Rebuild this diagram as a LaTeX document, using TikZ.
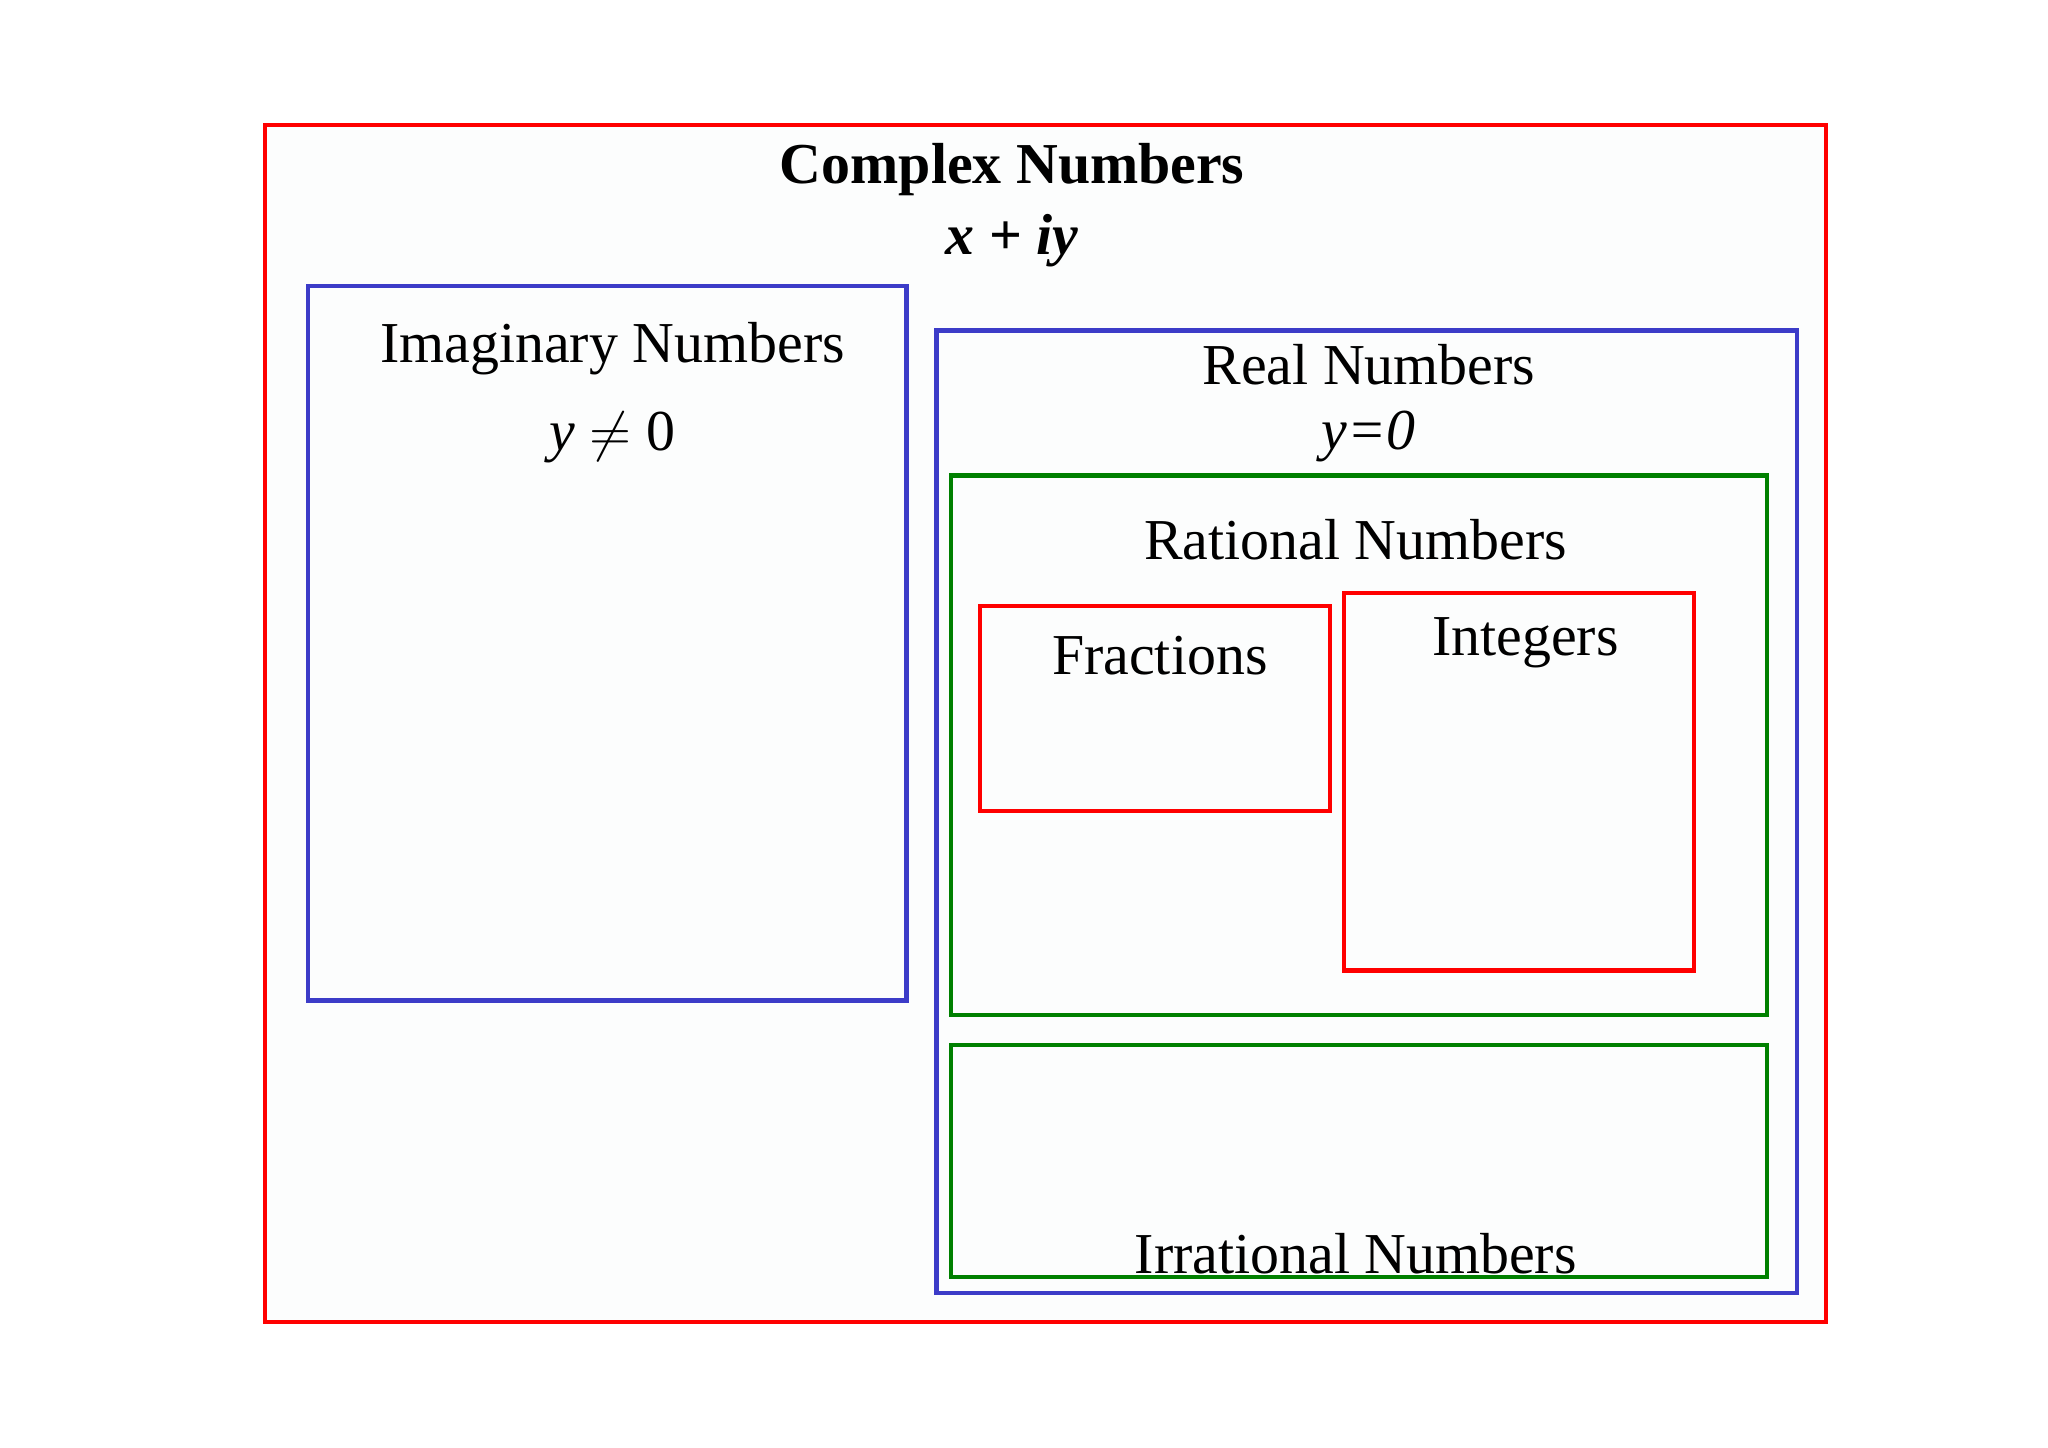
\documentclass[tikz,border=0pt]{standalone}
\usepackage{fontspec}
\setmainfont{Liberation Serif}
\begin{document}
\begin{tikzpicture}[x=0.01cm,y=-0.01cm,
  bx/.style={line width=0.9pt},
  lbl/.style={font=\fontsize{12.6}{15}\selectfont, inner sep=0pt}]
\definecolor{bbl}{RGB}{60,60,200}
\useasboundingbox (0,0) rectangle (1568,1108);
\fill[white] (0,0) rectangle (1568,1108);
\draw[bx,red,fill={rgb,255:red,252;green,253;blue,253}] (203,96) rectangle (1398,1012);
\draw[bx,bbl] (236,219) rectangle (694,766);
\draw[bx,bbl] (717,253) rectangle (1376,990);
\draw[bx,green!50!black] (728,364) rectangle (1353,777);
\draw[bx,red] (750,464) rectangle (1018,621);
\draw[bx,red] (1029,454) rectangle (1297,743);
\draw[bx,green!50!black] (728,800) rectangle (1353,978);
\node[lbl,font=\fontsize{12.6}{15}\selectfont\bfseries] (c) at (775,130) {Complex Numbers};
\node[lbl] (cx) at (775,184) {\textbf{\textit{x}} \textbf{+} \textbf{\textit{iy}}};
\node[lbl] (im) at (469,267) {Imaginary Numbers};
\node[lbl] (imy) at (469,335) {\textit{y} $\neq$ 0};
\node[lbl] (re) at (1048,279) {Real Numbers};
\node[lbl] (rey) at (1048,334) {\textit{y=0}};
\node[lbl] (ra) at (1038,413) {Rational Numbers};
\node[lbl] (fr) at (888,502) {Fractions};
\node[lbl] (in) at (1168,492) {Integers};
\node[lbl] (ir) at (1038,960) {Irrational Numbers};
\end{tikzpicture}
\end{document}
